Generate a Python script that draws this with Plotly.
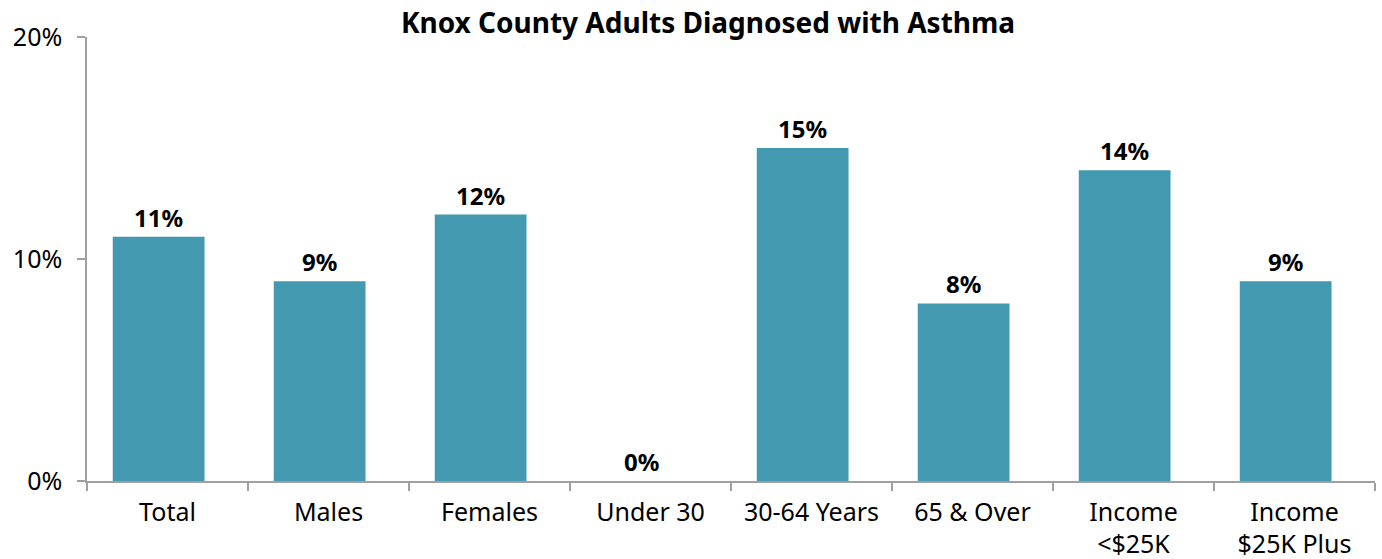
import plotly.graph_objects as go

categories = ["Total", "Males", "Females", "Under 30", "30-64 Years", "65 & Over",
              "Income<br>&lt;$25K", "Income<br>$25K Plus"]
values = [11, 9, 12, 0, 15, 8, 14, 9]
labels = [f"<b>{v}%</b>" for v in values]
y_ticks = [0, 10, 20]
y_tick_text = ["0%", "10%", "20%"]

FONT = "Noto Sans, Open Sans, sans-serif"

fig = go.Figure(go.Bar(
    x=categories, y=values,
    marker=dict(color="#4399B0", line=dict(width=0)),
    text=labels, textposition="outside", cliponaxis=False,
    textfont=dict(family=FONT, size=24, color="#000000"),
    width=0.57, offset=-0.34,
))

fig.update_layout(
    width=1382, height=559,
    margin=dict(l=87, r=7, t=37, b=78, autoexpand=False),
    paper_bgcolor="white", plot_bgcolor="white",
    showlegend=False,
    title=dict(text="<b>Knox County Adults Diagnosed with Asthma</b>",
               x=0.5123, xref="container", xanchor="center",
               y=0.958, yref="container", yanchor="middle",
               font=dict(family=FONT, size=28, color="#000000")),
    font=dict(family=FONT, size=25, color="#000000"),
)
fig.update_xaxes(
    type="category", showline=True, linecolor="#A0A0A0", linewidth=1.5,
    ticks="outside", tickson="boundaries", ticklen=8, tickcolor="#A0A0A0", tickwidth=1.5,
    tickfont=dict(family=FONT, size=25, color="#000000"),
    ticklabelstandoff=8,
    showgrid=False, zeroline=False, automargin=False,
)
fig.update_yaxes(
    range=[0, 20], tickvals=y_ticks, ticktext=y_tick_text,
    showline=True, linecolor="#A0A0A0", linewidth=1.5,
    ticks="outside", ticklen=8, tickcolor="#A0A0A0", tickwidth=1.5,
    tickfont=dict(family=FONT, size=25, color="#000000"),
    ticklabelstandoff=10,
    showgrid=False, zeroline=False, automargin=False,
)

fig.write_html("out.html", config={"displayModeBar": False},
               post_script="document.body.style.margin='0px';")
